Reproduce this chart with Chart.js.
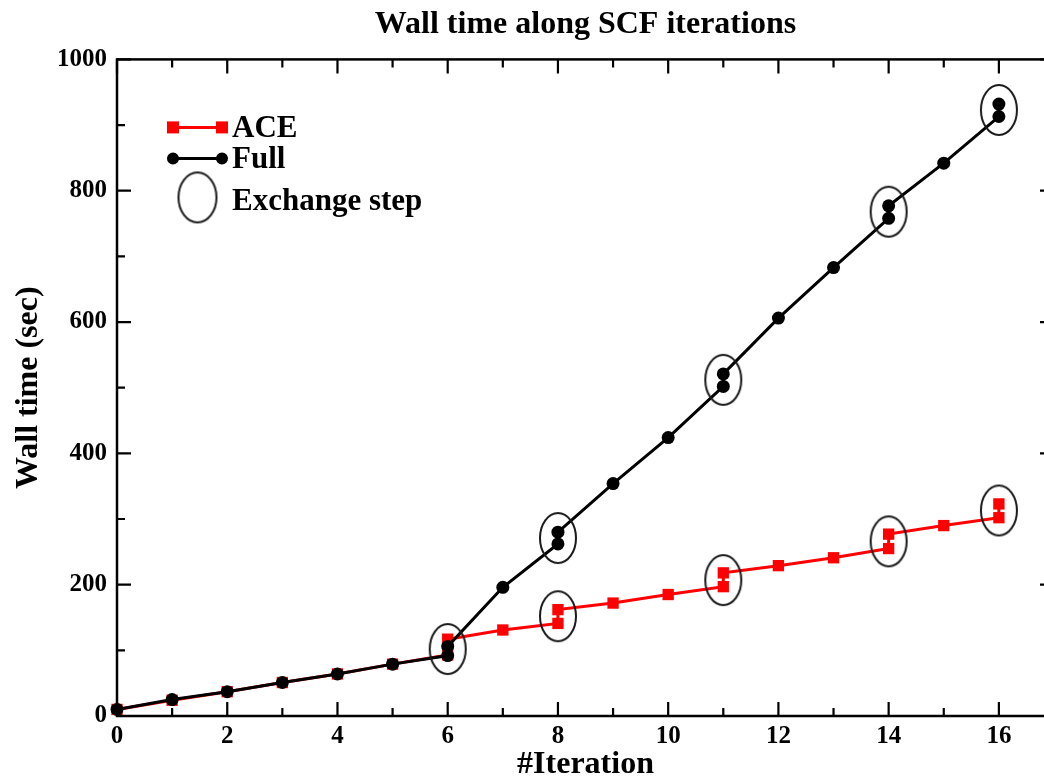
<!DOCTYPE html>
<html>
<head>
<meta charset="utf-8">
<title>Wall time along SCF iterations</title>
<script src="https://cdn.jsdelivr.net/npm/chart.js@4.4.1/dist/chart.umd.min.js"></script>
<style>
  html, body { margin: 0; padding: 0; background: #fff; overflow: hidden; }
  #chart { display: block; }
</style>
</head>
<body>
<canvas id="chart" width="1075" height="781"></canvas>
<script>
// iterations repeat at exchange steps: value before and after the exchange
const aceIter = [0, 1, 2, 3, 4, 5, 6, 6, 7, 8, 8, 9, 10, 11, 11, 12, 13, 14, 14, 15, 16, 16];
const aceTime = [10, 24, 37, 51, 64, 79, 93, 117, 131, 141, 162, 172, 185, 197, 218, 229, 241, 255, 277, 290, 302, 323];

const fullIter = [0, 1, 2, 3, 4, 5, 6, 6, 7, 8, 8, 9, 10, 11, 11, 12, 13, 14, 14, 15, 16, 16];
const fullTime = [10, 25, 37, 51, 64, 79, 92, 106, 196, 262, 280, 354, 424, 502, 521, 606, 683, 758, 777, 842, 913, 932];

// ellipse centres marking exchange steps
const exchIter = [6, 8, 8, 11, 11, 14, 14, 16, 16];
const exchTime = [102, 271, 152, 512, 207, 768, 266, 923, 313];

const seriesLabels = ["ACE", "Full", "Exchange step"];

const serif = "'Liberation Serif', 'DejaVu Serif', serif";

function toPoints(xs, ys) {
  return xs.map(function (x, i) { return { x: x, y: ys[i] }; });
}

function makeEllipse(w, h, lw) {
  const c = document.createElement("canvas");
  c.width = w;
  c.height = h;
  const g = c.getContext("2d");
  g.strokeStyle = "#1a1a1a";
  g.lineWidth = lw;
  g.beginPath();
  g.ellipse(w / 2, h / 2, w / 2 - lw, h / 2 - lw, 0, 0, Math.PI * 2);
  g.stroke();
  return c;
}

const ellipseImg = makeEllipse(40, 54, 2);

// frame with inward major/minor ticks, like the original plot
const framePlugin = {
  id: "frame",
  afterDatasetsDraw: function (chart) {
    const ctx = chart.ctx;
    const a = chart.chartArea;
    const xs = chart.scales.x;
    const ys = chart.scales.y;
    ctx.save();
    ctx.strokeStyle = "#000";
    ctx.lineWidth = 2.5;
    ctx.strokeRect(a.left, a.top, a.right - a.left, a.bottom - a.top);

    ctx.lineWidth = 2.2;
    const major = 14;
    const minor = 8;

    function xTick(v, len) {
      const px = xs.getPixelForValue(v);
      ctx.beginPath();
      ctx.moveTo(px, a.bottom);
      ctx.lineTo(px, a.bottom - len);
      ctx.moveTo(px, a.top);
      ctx.lineTo(px, a.top + len);
      ctx.stroke();
    }
    function yTick(v, len) {
      const py = ys.getPixelForValue(v);
      ctx.beginPath();
      ctx.moveTo(a.left, py);
      ctx.lineTo(a.left + len, py);
      ctx.moveTo(a.right, py);
      ctx.lineTo(a.right - len, py);
      ctx.stroke();
    }

    const xt = xs.ticks.map(function (t) { return t.value; });
    xt.forEach(function (v) {
      xTick(v, major);
      if (v + 1 <= xs.max) {
        xTick(v + 1, minor);
      }
    });
    const yt = ys.ticks.map(function (t) { return t.value; });
    yt.forEach(function (v, i) {
      yTick(v, major);
      if (i < yt.length - 1) {
        yTick((v + yt[i + 1]) / 2, minor);
      }
    });
    ctx.restore();
  },
};

// legend drawn inside the plot area, top-left
const insideLegend = {
  id: "insideLegend",
  afterDraw: function (chart) {
    const ctx = chart.ctx;
    const a = chart.chartArea;
    const x0 = a.left + 56;
    const x1 = a.left + 105;
    const tx = a.left + 115;
    ctx.save();
    ctx.font = "bold 31px " + serif;
    ctx.textAlign = "left";
    ctx.textBaseline = "alphabetic";

    // ACE
    let y = a.top + 68;
    ctx.strokeStyle = "#ff0000";
    ctx.fillStyle = "#ff0000";
    ctx.lineWidth = 3;
    ctx.beginPath();
    ctx.moveTo(x0, y);
    ctx.lineTo(x1, y);
    ctx.stroke();
    ctx.fillRect(x0 - 6, y - 6, 12, 12);
    ctx.fillRect(x1 - 6, y - 6, 12, 12);
    ctx.fillStyle = "#000";
    ctx.fillText(seriesLabels[0], tx, a.top + 78);

    // Full
    y = a.top + 99;
    ctx.strokeStyle = "#000";
    ctx.beginPath();
    ctx.moveTo(x0, y);
    ctx.lineTo(x1, y);
    ctx.stroke();
    ctx.beginPath();
    ctx.arc(x0, y, 6, 0, Math.PI * 2);
    ctx.arc(x1, y, 6, 0, Math.PI * 2);
    ctx.fill();
    ctx.fillText(seriesLabels[1], tx, a.top + 109);

    // Exchange step
    const img = makeEllipse(42, 54, 2);
    ctx.drawImage(img, (x0 + x1) / 2 - 21, a.top + 138 - 27);
    ctx.fillText(seriesLabels[2], tx, a.top + 151);
    ctx.restore();
  },
};

new Chart(document.getElementById("chart"), {
  type: "line",
  data: {
    datasets: [
      {
        label: seriesLabels[2],
        data: toPoints(exchIter, exchTime),
        showLine: false,
        pointStyle: ellipseImg,
        pointRadius: 20,
        order: 0,
        clip: false,
      },
      {
        label: seriesLabels[1],
        data: toPoints(fullIter, fullTime),
        borderColor: "#000",
        backgroundColor: "#000",
        borderWidth: 3,
        pointStyle: "circle",
        pointRadius: 6.5,
        pointBorderWidth: 0,
        tension: 0,
        order: 1,
        clip: false,
      },
      {
        label: seriesLabels[0],
        data: toPoints(aceIter, aceTime),
        borderColor: "#ff0000",
        backgroundColor: "#ff0000",
        borderWidth: 3,
        pointStyle: "rect",
        pointRadius: 8,
        pointBorderWidth: 0,
        tension: 0,
        order: 2,
        clip: false,
      },
    ],
  },
  options: {
    responsive: false,
    animation: false,
    events: [],
    layout: { padding: { left: 0, right: 5, top: 0, bottom: 0 } },
    plugins: {
      legend: { display: false },
      tooltip: { enabled: false },
      title: {
        display: true,
        fullSize: false,
        text: "Wall time along SCF iterations",
        color: "#000",
        font: { family: serif, size: 32, weight: "bold" },
        padding: { top: 6, bottom: 15 },
      },
    },
    scales: {
      x: {
        type: "linear",
        min: 0,
        max: 17,
        grid: { display: false, drawTicks: false },
        border: { display: false },
        ticks: {
          stepSize: 2,
          includeBounds: false,
          color: "#000",
          padding: 6,
          font: { family: serif, size: 25, weight: "bold" },
        },
        title: {
          display: true,
          text: "#Iteration",
          color: "#000",
          font: { family: serif, size: 32, weight: "bold" },
          padding: { top: 0, bottom: -3 },
        },
        afterFit: function (scale) { scale.height = 65; },
      },
      y: {
        min: 0,
        max: 1000,
        grid: { display: false, drawTicks: false },
        border: { display: false },
        ticks: {
          stepSize: 200,
          color: "#000",
          padding: 10,
          font: { family: serif, size: 25, weight: "bold" },
          callback: function (value) { return String(value); },
        },
        title: {
          display: true,
          text: "Wall time (sec)",
          color: "#000",
          font: { family: serif, size: 32, weight: "bold" },
          padding: { top: 10, bottom: 0 },
        },
        afterFit: function (scale) { scale.width = 117; },
      },
    },
  },
  plugins: [framePlugin, insideLegend],
});
</script>
</body>
</html>
